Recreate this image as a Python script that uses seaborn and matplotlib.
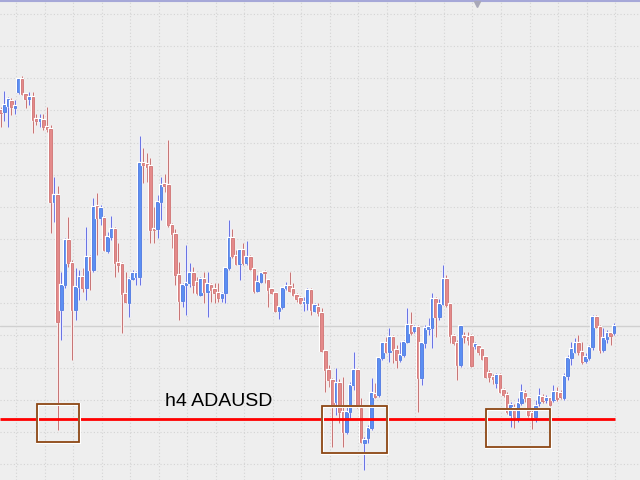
import numpy as np
import pandas as pd
import matplotlib
matplotlib.use('Agg')
import matplotlib.pyplot as plt
import matplotlib.patheffects as pe
from matplotlib.patches import Rectangle
import seaborn as sns

# h4 ADAUSD candles (price in chart units)
opens = [370, 368, 374, 379, 372, 388, 401, 386, 381, 383, 361, 359, 360, 353, 351, 278, 285, 170, 195, 240,
         217, 170, 193, 203, 192, 223, 210, 274, 262, 262, 229, 243, 251, 217, 216, 186, 177, 201, 203, 203,
         317, 316, 314, 251, 251, 278, 296, 295, 255, 246, 205, 179, 195, 197, 207, 198, 185, 201, 188, 195,
         191, 187, 182, 187, 212, 242, 224, 216, 230, 217, 223, 211, 189, 198, 208, 200, 191, 187, 169, 173,
         192, 194, 191, 185, 182, 177, 177, 190, 169, 173, 167, 129, 110, 100, 78, 97, 68, 48, 68, 95,
         110, 72, 37, 42, 52, 86, 85, 122, 137, 128, 143, 130, 120, 125, 138, 155, 149, 153, 102, 137,
         151, 152, 181, 163, 176, 201, 176, 144, 137, 115, 144, 143, 144, 134, 134, 131, 123, 107, 103, 97,
         105, 90, 85, 65, 72, 62, 77, 87, 82, 67, 63, 77, 83, 80, 82, 80, 88, 87, 82, 104,
         122, 128, 137, 128, 119, 122, 133, 163, 153, 130, 141, 147, 147]
highs = [373, 389, 383, 382, 380, 402, 404, 387, 388, 388, 366, 366, 366, 373, 355, 303, 294, 208, 242, 263,
         220, 212, 210, 212, 253, 225, 282, 287, 275, 264, 248, 264, 253, 237, 218, 208, 203, 210, 209, 344,
         332, 327, 322, 273, 285, 303, 306, 340, 257, 251, 218, 197, 235, 217, 213, 203, 203, 208, 208, 197,
         197, 197, 188, 213, 260, 251, 230, 231, 237, 239, 225, 212, 205, 208, 210, 201, 192, 188, 174, 193,
         198, 208, 197, 187, 184, 183, 192, 192, 177, 177, 172, 130, 115, 102, 112, 101, 103, 75, 98, 128,
         112, 82, 43, 55, 102, 97, 123, 138, 143, 152, 145, 135, 138, 140, 172, 168, 155, 155, 138, 155,
         162, 187, 183, 181, 215, 205, 177, 146, 140, 155, 148, 148, 146, 138, 135, 132, 124, 110, 106, 107,
         107, 92, 88, 78, 76, 82, 96, 90, 83, 70, 80, 92, 86, 85, 83, 95, 93, 90, 107, 125,
         138, 142, 145, 138, 127, 135, 165, 165, 155, 152, 150, 148, 157]
lows = [353, 359, 353, 365, 366, 386, 385, 372, 375, 347, 355, 353, 350, 348, 247, 258, 50, 140, 192, 213,
        120, 160, 180, 188, 180, 190, 208, 225, 255, 229, 227, 240, 203, 208, 147, 177, 163, 200, 195, 195,
        297, 298, 237, 237, 242, 260, 288, 253, 232, 195, 160, 173, 165, 193, 187, 185, 184, 177, 163, 178,
        177, 178, 178, 177, 210, 222, 215, 200, 215, 215, 210, 187, 188, 197, 197, 173, 186, 168, 161, 171,
        190, 188, 184, 178, 176, 169, 170, 165, 168, 164, 128, 88, 93, 33, 65, 57, 33, 46, 62, 90,
        72, 37, 10, 37, 50, 82, 83, 120, 127, 118, 117, 112, 118, 123, 137, 145, 147, 68, 95, 132,
        145, 132, 143, 160, 175, 173, 137, 135, 100, 113, 137, 135, 113, 131, 125, 120, 102, 98, 96, 92,
        87, 83, 66, 53, 52, 58, 75, 78, 63, 51, 58, 74, 77, 77, 74, 78, 79, 81, 80, 100,
        115, 127, 125, 116, 117, 120, 130, 152, 127, 128, 137, 135, 145]
closes = [367, 375, 381, 373, 374, 401, 386, 381, 383, 360, 359, 361, 353, 351, 278, 285, 158, 195, 240, 217,
          170, 193, 203, 192, 223, 210, 273, 262, 272, 230, 243, 251, 217, 215, 186, 178, 201, 207, 207, 317,
          315, 313, 250, 250, 278, 295, 294, 255, 246, 205, 179, 195, 197, 207, 195, 187, 201, 188, 196, 190,
          187, 182, 186, 212, 242, 224, 216, 230, 217, 223, 211, 189, 198, 207, 207, 190, 187, 169, 173, 192,
          194, 189, 185, 181, 177, 178, 190, 170, 175, 167, 129, 110, 100, 73, 97, 68, 48, 68, 95, 110,
          73, 38, 40, 52, 87, 83, 122, 137, 128, 143, 130, 120, 125, 138, 155, 147, 153, 102, 137, 152,
          153, 181, 163, 176, 201, 175, 144, 137, 115, 154, 143, 140, 114, 136, 128, 121, 103, 103, 101, 105,
          88, 85, 68, 75, 63, 77, 88, 82, 65, 62, 74, 84, 79, 82, 75, 88, 81, 83, 104, 122,
          131, 137, 128, 118, 123, 133, 163, 153, 130, 142, 147, 144, 154]

# marked zones: bar range and price range
zone_starts = [10.1, 90.0, 136.0]
zone_ends = [22.0, 108.2, 154.0]
zone_lows = [38, 27, 33]
zone_highs = [76, 74, 71]
support_level = 61
support_end = 172.3
label_text = 'h4 ADAUSD'
label_bar, label_price = 61.2, 79
shift_bar = 133.7

df = pd.DataFrame({'open': opens, 'high': highs, 'low': lows, 'close': closes})
df['bar'] = np.arange(len(df))
df['up'] = df['close'] >= df['open']
df['body_lo'] = df[['open', 'close']].min(axis=1)
df['body_h'] = (df['close'] - df['open']).abs().clip(lower=1.3)

sns.set_theme(style='whitegrid', rc={'axes.facecolor': '#eeeeee', 'figure.facecolor': '#eeeeee'})

fig = plt.figure(figsize=(6.4, 4.8), dpi=100)
ax = fig.add_axes([0, 0, 1, 1])
ax.set_xlim(-0.196, 179.27)
ax.set_ylim(0, 480)

# dotted grid like the terminal
ax.set_xticks(np.arange(4.3, 180, 8))
ax.set_yticks(np.arange(16, 480, 32.14))
ax.grid(True, color='#d4d4d4', linestyle=(0, (1, 2)), linewidth=0.8)
ax.tick_params(length=0, labelbottom=False, labelleft=False)
for s in ax.spines.values():
    s.set_visible(False)

halo = [pe.Stroke(linewidth=2.2, foreground='white'), pe.Normal()]

# bid line at the last close
ax.axhline(closes[-1], color='#d0d0d0', lw=1, zorder=1)

wick_cols = np.where(df['up'], '#6a74e4', '#c87676')
ax.vlines(df['bar'], df['low'], df['high'], colors=wick_cols, lw=0.9, zorder=3, path_effects=halo)

body_cols = np.where(df['up'], '#5b8ff2', '#e48a8a')
edge_cols = np.where(df['up'], '#3a66dc', '#c86262')
ax.bar(df['bar'], df['body_h'], bottom=df['body_lo'], width=0.72, color=body_cols,
       edgecolor=edge_cols, linewidth=0.5, zorder=4,
       path_effects=[pe.Stroke(linewidth=1.6, foreground='white'), pe.Normal()])

# support line and zones
ax.hlines(support_level, -0.196, support_end, color='#ff0000', lw=2, zorder=5)
for x0, x1, lo, hi in zip(zone_starts, zone_ends, zone_lows, zone_highs):
    ax.add_patch(Rectangle((x0, lo), x1 - x0, hi - lo, fill=False, edgecolor='#8b4513',
                           lw=1.3, zorder=6, path_effects=halo))

ax.text(label_bar, label_price, label_text, ha='center', va='center', fontsize=14,
        family='Liberation Sans', color='black', zorder=7)

# top border and chart shift marker
ax.axhline(479.3, color='#a6a8d8', lw=1.5, zorder=2)
ax.plot([shift_bar], [476.5], marker='v', color='#a8a8b8', ms=5, zorder=2)

fig.savefig('out.png', dpi=100, facecolor=fig.get_facecolor())
